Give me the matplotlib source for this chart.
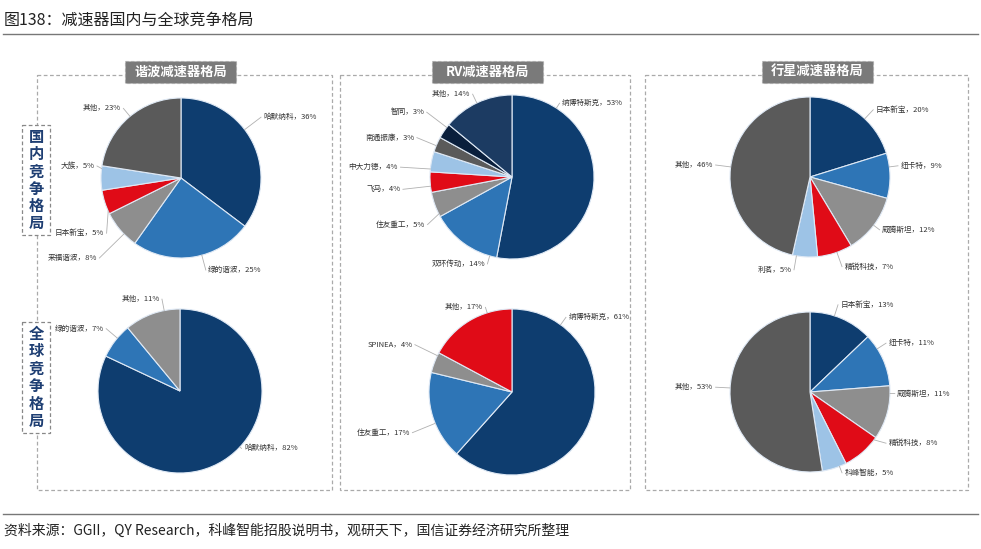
import numpy as np
import matplotlib
matplotlib.use("Agg")
import matplotlib.pyplot as plt
from matplotlib.patches import Rectangle

plt.rcParams['font.family'] = ['Noto Sans CJK SC', 'DejaVu Sans']

# colours
NAVY = '#0e3d6f'
MID = '#2e75b6'
GRAY = '#8e8e8e'
RED = '#e00b17'
LIGHT = '#9dc3e6'
DGRAY = '#5a5a5a'
DARK = '#0a1f3c'
DNAVY = '#1c3b62'

# 谐波 国内
hd_names = ['哈默纳科', '绿的谐波', '来福谐波', '日本新宝', '大族', '其他']
hd_vals = [36, 25, 8, 5, 5, 23]
hd_cols = [NAVY, MID, GRAY, RED, LIGHT, DGRAY]
# 谐波 全球
hg_names = ['哈默纳科', '绿的谐波', '其他']
hg_vals = [82, 7, 11]
hg_cols = [NAVY, MID, GRAY]
# RV 国内
rd_names = ['纳博特斯克', '双环传动', '住友重工', '飞马', '中大力德', '南通振康', '智同', '其他']
rd_vals = [53, 14, 5, 4, 4, 3, 3, 14]
rd_cols = [NAVY, MID, GRAY, RED, LIGHT, DGRAY, DARK, DNAVY]
# RV 全球
rg_names = ['纳博特斯克', '住友重工', 'SPINEA', '其他']
rg_vals = [61, 17, 4, 17]
rg_cols = [NAVY, MID, GRAY, RED]
# 行星 国内
pd_names = ['日本新宝', '纽卡特', '威腾斯坦', '精锐科技', '利茗', '其他']
pd_vals = [20, 9, 12, 7, 5, 46]
pd_cols = [NAVY, MID, GRAY, RED, LIGHT, DGRAY]
# 行星 全球
pg_names = ['日本新宝', '纽卡特', '威腾斯坦', '精锐科技', '科峰智能', '其他']
pg_vals = [13, 11, 11, 8, 5, 53]
pg_cols = [NAVY, MID, GRAY, RED, LIGHT, DGRAY]

# label anchor spots (in pie radii), one per slice: x, y, side
hd_lab = [(1.0, 0.76, 'l'), (0.31, -1.15, 'l'), (-1.02, -1.0, 'r'), (-0.93, -0.69, 'r'),
          (-1.05, 0.15, 'r'), (-0.72, 0.87, 'r')]
hg_lab = [(0.75, -0.7, 'l'), (-0.9, 0.76, 'r'), (-0.22, 1.12, 'r')]
rd_lab = [(0.58, 0.9, 'l'), (-0.3, -1.06, 'r'), (-1.03, -0.58, 'r'), (-1.33, -0.15, 'r'),
          (-1.36, 0.12, 'r'), (-1.16, 0.48, 'r'), (-1.04, 0.79, 'r'), (-0.48, 1.01, 'r')]
rg_lab = [(0.65, 0.9, 'l'), (-1.2, -0.49, 'r'), (-1.17, 0.57, 'r'), (-0.32, 1.02, 'r')]
pd_lab = [(0.79, 0.84, 'l'), (1.1, 0.14, 'l'), (0.87, -0.66, 'l'), (0.4, -1.12, 'l'),
          (-0.2, -1.16, 'r'), (-1.18, 0.15, 'r')]
pg_lab = [(0.35, 1.09, 'l'), (0.95, 0.61, 'l'), (1.06, -0.02, 'l'), (0.95, -0.64, 'l'),
          (0.4, -1.01, 'l'), (-1.18, 0.06, 'r')]

W, H = 981, 549
fig = plt.figure(figsize=(W / 100, H / 100), dpi=100)
bg = fig.add_axes([0, 0, 1, 1])
bg.set_xlim(0, W)
bg.set_ylim(H, 0)
bg.axis('off')

# title and footer
bg.text(4, 20, '图138：减速器国内与全球竞争格局', fontsize=11.5, va='center', ha='left', color='#222222')
bg.plot([3, 978], [34, 34], color='#777777', lw=1)
bg.plot([3, 978], [514, 514], color='#777777', lw=1)
bg.text(4, 531, '资料来源：GGII，QY Research，科峰智能招股说明书，观研天下，国信证券经济研究所整理',
        fontsize=10, va='center', ha='left', color='#222222')

# panels
for x0, x1 in [(37, 332), (340, 630), (645, 968)]:
    bg.add_patch(Rectangle((x0, 75), x1 - x0, 415, fill=False, ec='#aaaaaa', lw=0.9, ls=(0, (3, 2))))
for x0, x1, t in [(125, 236, '谐波减速器格局'), (432, 543, 'RV减速器格局'), (762, 873, '行星减速器格局')]:
    bg.add_patch(Rectangle((x0, 61), x1 - x0, 22, fc='#7a7a7a', ec='#aaaaaa', lw=0.8, ls=(0, (3, 2))))
    bg.text((x0 + x1) / 2, 72, t, color='white', fontsize=9.5, fontweight='bold', ha='center', va='center')

# side labels
for y0, y1, t in [(125, 235, '国内竞争格局'), (322, 433, '全球竞争格局')]:
    bg.add_patch(Rectangle((22, y0), 28, y1 - y0, fc='white', ec='#888888', lw=0.9, ls=(0, (3, 2))))
    n = len(t)
    for i, ch in enumerate(t):
        bg.text(36, y0 + 12 + i * (y1 - y0 - 24) / (n - 1), ch, color='#1f3f73', fontsize=11,
                fontweight='bold', ha='center', va='center')


def draw_pie(cx, cy, r, vals, names, cols, labs):
    R = r * 2
    ax = fig.add_axes([(cx - R) / W, 1 - (cy + R) / H, 2 * R / W, 2 * R / H])
    ax.pie(vals, colors=cols, startangle=90, counterclock=False, radius=1,
           wedgeprops=dict(edgecolor='#dfe9f5', linewidth=0.8))
    ax.set_xlim(-2, 2)
    ax.set_ylim(-2, 2)
    ax.set_aspect('equal')
    ax.axis('off')
    tot = float(sum(vals))
    cum = 0.0
    for v, nm, (lx, ly, sd) in zip(vals, names, labs):
        a0 = cum / tot * 360
        a1 = (cum + v) / tot * 360
        cum += v
        # start the leader on the rim, as near the label as the slice allows
        phi = np.degrees(np.arctan2(lx, ly)) % 360
        pad = min(2.0, (a1 - a0) / 3)
        phi = min(max(phi, a0 + pad), a1 - pad)
        th = np.deg2rad(phi)
        sx, sy = np.sin(th), np.cos(th)
        side = 1 if sd == 'l' else -1
        ax.plot([sx, lx], [sy, ly], color='#b0b0b0', lw=0.6, clip_on=False)
        ax.text(lx + side * 0.03, ly, f'{nm}，{v}%', fontsize=5.5, color='#333333',
                ha='left' if side > 0 else 'right', va='center')


draw_pie(181, 178, 80, hd_vals, hd_names, hd_cols, hd_lab)
draw_pie(180, 391, 82, hg_vals, hg_names, hg_cols, hg_lab)
draw_pie(512, 177, 82, rd_vals, rd_names, rd_cols, rd_lab)
draw_pie(512, 392, 83, rg_vals, rg_names, rg_cols, rg_lab)
draw_pie(810, 177, 80, pd_vals, pd_names, pd_cols, pd_lab)
draw_pie(810, 392, 80, pg_vals, pg_names, pg_cols, pg_lab)

fig.savefig('out.png', dpi=100)
